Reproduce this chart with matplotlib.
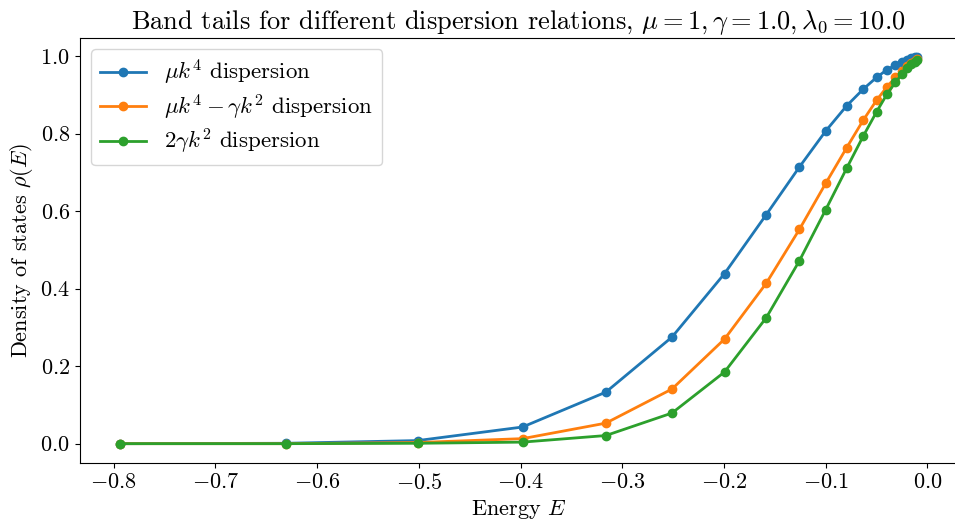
import matplotlib
matplotlib.use("Agg")
import matplotlib.pyplot as plt

plt.rcParams['font.family'] = 'serif'
plt.rcParams['font.serif'] = ['cmr10']
plt.rcParams['mathtext.fontset'] = 'cm'
plt.rcParams['axes.formatter.use_mathtext'] = True
plt.rcParams['axes.unicode_minus'] = True

# energies (log-spaced, negative)
energy = [-0.7943, -0.6310, -0.5012, -0.3981, -0.3162, -0.2512, -0.1995, -0.1585,
          -0.1259, -0.1000, -0.0794, -0.0631, -0.0501, -0.0398, -0.0316, -0.0251,
          -0.0200, -0.0158, -0.0126, -0.0100]

rho_k4 = [0.000, 0.001, 0.008, 0.043, 0.133, 0.275, 0.439, 0.591,
          0.714, 0.807, 0.872, 0.915, 0.945, 0.965, 0.977, 0.986,
          0.991, 0.995, 0.997, 0.998]

rho_k4_k2 = [0.000, 0.000, 0.003, 0.013, 0.053, 0.141, 0.270, 0.414,
             0.553, 0.672, 0.764, 0.835, 0.886, 0.921, 0.945, 0.962,
             0.974, 0.982, 0.988, 0.992]

rho_k2 = [0.000, 0.000, 0.001, 0.004, 0.021, 0.079, 0.185, 0.325,
          0.472, 0.604, 0.711, 0.794, 0.856, 0.902, 0.932, 0.954,
          0.969, 0.979, 0.986, 0.990]

labels = [r'$\mu k^4$ dispersion',
          r'$\mu k^4 - \gamma k^2$ dispersion',
          r'$2\gamma k^2$ dispersion']

fig = plt.figure(figsize=(9.55, 5.22), dpi=100)
ax = fig.add_axes([0.0834, 0.113, 0.9189, 0.815])

for rho, lab in zip([rho_k4, rho_k4_k2, rho_k2], labels):
    ax.plot(energy, rho, 'o-', lw=2, ms=6, label=lab)

ax.set_xlabel(r'Energy $E$', fontsize=16)
ax.set_ylabel(r'Density of states $\rho(E)$', fontsize=16)
ax.set_title(r'Band tails for different dispersion relations, $\mu=1, \gamma=1.0, \lambda_0=10.0$',
             fontsize=19)
ax.tick_params(labelsize=16)
ax.legend(loc='upper left', fontsize=16.5, labelspacing=0.22)

fig.savefig('out.png', dpi=100)
